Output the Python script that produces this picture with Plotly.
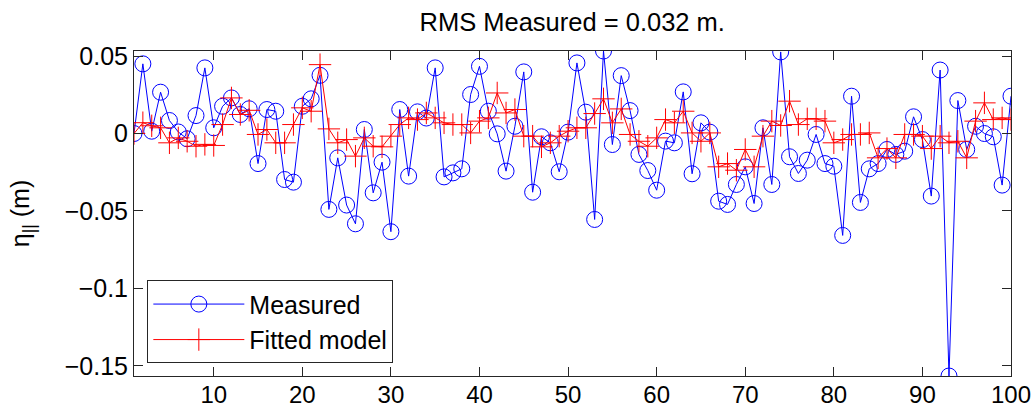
import plotly.graph_objects as go

x_index = list(range(1, 101))

measured = [
    0.0, 0.045, 0.0015, 0.0267, 0.0084, 0.001, -0.0034, 0.0116, 0.0424, 0.0037,
    0.0176, 0.023, 0.0123, 0.016, -0.0194, 0.0155, 0.0144, -0.0297, -0.0314, 0.0176,
    0.0224, 0.0376, -0.049, -0.0157, -0.0462, -0.0583, 0.0026, -0.0383, -0.0185, -0.0634,
    0.0155, -0.0275, 0.014, 0.010, 0.0424, -0.028, -0.0254, -0.0228, 0.0252, 0.0434,
    0.0144, -0.0002, -0.0243, 0.0047, 0.0398, -0.0379, -0.0021, -0.006, -0.0247, 0.0009,
    0.0456, 0.0138, -0.0555, 0.0533, -0.0071, 0.0374, 0.0148, -0.0135, -0.0239, -0.0366,
    -0.0049, -0.006, 0.0269, -0.026, 0.0069, 0.0009, -0.0437, -0.0458, -0.0329, -0.0215,
    -0.0452, 0.0037, -0.0329, 0.0527, -0.015, -0.0258, -0.0172, -0.0006, -0.0194, -0.0211,
    -0.0658, 0.0241, -0.0445, -0.0228, -0.0194, -0.0103, -0.0135, -0.0114, 0.0108, -0.0039,
    -0.0404, 0.041, -0.1566, 0.0213, -0.0103, 0.0047, 0.0, -0.0021, -0.0333, 0.0241,
]

fitted = [
    0.0, 0.007, 0.005, 0.0037, -0.006, -0.0028, -0.005, -0.0082, -0.007, -0.0077,
    0.0058, 0.023, 0.0123, 0.015, -0.0006, 0.0026, -0.006, -0.006, 0.0058, 0.0166,
    0.0144, 0.0445, 0.003, -0.006, -0.0039, -0.0146, -0.0028, -0.0082, -0.0086, -0.0017,
    0.0058, 0.0101, 0.009, 0.0133, 0.0101, 0.0069, 0.0058, 0.0058, 0.0004, 0.008,
    0.0101, 0.0262, 0.0133, 0.0155, -0.0017, -0.0017, -0.0086, -0.006, -0.0017, 0.0015,
    0.0037, 0.0037, 0.0129, 0.0224, 0.0069, 0.0159, -0.0006, -0.005, -0.0082, -0.0028,
    0.009, 0.0069, 0.0144, 0.0004, -0.005, 0.0004, -0.0215, -0.0194, -0.0237, -0.0103,
    -0.0215, -0.0017, 0.008, 0.0052, 0.0209, 0.0058, 0.0095, 0.0095, 0.008, -0.006,
    -0.0039, -0.0006, -0.0006, 0.0004, -0.0157, -0.0097, -0.0157, -0.0006, -0.0006, -0.0017,
    -0.0097, -0.0017, -0.006, -0.005, -0.0157, 0.008, 0.0198, 0.009, 0.0101, 0.009,
]

x_ticks = [10, 20, 30, 40, 50, 60, 70, 80, 90, 100]
y_ticks = [-0.15, -0.1, -0.05, 0, 0.05]
y_tick_labels = ["\u22120.15", "\u22120.1", "\u22120.05", "0", "0.05"]

FONT = "Liberation Sans, Arial, sans-serif"

fig = go.Figure()
fig.add_trace(go.Scatter(
    x=x_index, y=measured, name="Measured", mode="lines+markers",
    line=dict(color="#0000ff", width=1),
    marker=dict(symbol="circle-open", size=16, color="#0000ff",
                line=dict(width=1, color="#0000ff")),
))
fig.add_trace(go.Scatter(
    x=x_index, y=fitted, name="Fitted model", mode="lines+markers",
    line=dict(color="#ff0000", width=1),
    marker=dict(symbol="cross-thin-open", size=16, color="#ff0000",
                line=dict(width=1, color="#ff0000")),
))

axis_common = dict(
    showline=True, linecolor="#262626", linewidth=1, mirror="ticks",
    ticks="inside", ticklen=9, tickcolor="#262626", tickwidth=1,
    showgrid=False, zeroline=False, automargin=False,
)

fig.update_layout(
    width=1032, height=409,
    margin=dict(l=134, r=21, t=51, b=33),
    paper_bgcolor="white", plot_bgcolor="white",
    font=dict(family=FONT, size=25, color="#000000"),
    title=dict(text="RMS Measured = 0.032 m.", x=0.5545, xanchor="center",
               y=0.947, yanchor="middle", yref="container",
               font=dict(family=FONT, size=25.5, color="#000000")),
    xaxis=dict(range=[1, 100], tickvals=x_ticks, ticklabelstandoff=-3,
               tickfont=dict(family=FONT, size=24, color="#000000"),
               **axis_common),
    yaxis=dict(range=[min(measured), max(measured)], tickvals=y_ticks,
               ticktext=y_tick_labels,
               tickfont=dict(family=FONT, size=25, color="#000000"),
               title=dict(text="\u03b7<sub>||</sub> (m)", standoff=27,
                          font=dict(family=FONT, size=25, color="#000000")),
               **axis_common),
    legend=dict(x=0.0152, y=0.039, xanchor="left", yanchor="bottom",
                bgcolor="white", bordercolor="#262626", borderwidth=1,
                font=dict(family=FONT, size=25, color="#000000"),
                itemwidth=91, tracegroupgap=0),
    showlegend=True,
)

fig.write_html("out.html")
